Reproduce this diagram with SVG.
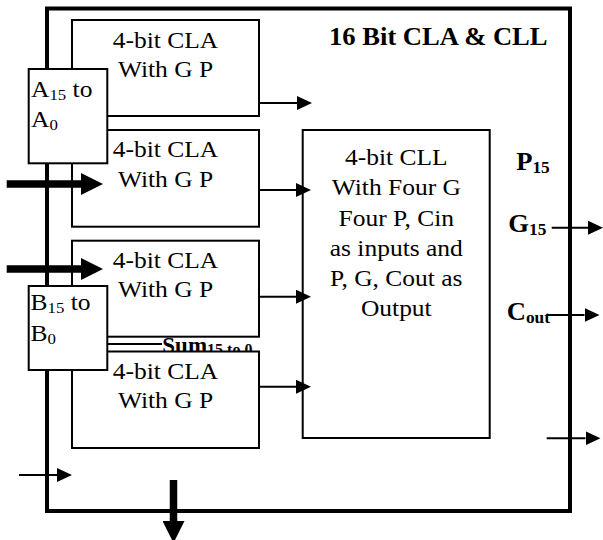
<svg xmlns="http://www.w3.org/2000/svg" width="603" height="540" viewBox="0 0 603 540">
<style>
.frame{fill:none;stroke:#000;stroke-width:4}
.box{fill:#fff;stroke:#000;stroke-width:2}
.t{font-family:"Liberation Serif","Times New Roman",serif;font-size:23.5px;fill:#000}
.b{font-weight:bold}
.lb{font-size:24.5px}
.s{font-size:15.5px}
.wire{stroke:#000;stroke-width:2;fill:none}
.bus{stroke:#000;stroke-width:7.5;fill:none}
</style>
<defs>
<marker id="ah" markerUnits="userSpaceOnUse" markerWidth="15" markerHeight="14" viewBox="0 0 15 14" refX="0" refY="7" orient="auto"><path d="M0,0 L15,7 L0,14 z" fill="#000"/></marker>
<marker id="ahb" markerUnits="userSpaceOnUse" markerWidth="22" markerHeight="22" viewBox="0 0 22 22" refX="0" refY="11" orient="auto"><path d="M0,0 L22,11 L0,22 z" fill="#000"/></marker>
</defs>
<g id="outer">
<rect class="frame" x="47" y="8.5" width="523" height="502.5"/>
<text class="t b" style="font-size:24.5px" text-anchor="middle" transform="translate(438.3,45) scale(1.085,1)">16 Bit CLA &amp; CLL</text>
</g>
<g id="cla1">
<rect class="box" x="72" y="20" width="187" height="96"/>
<text class="t" text-anchor="middle" transform="translate(165.5,47.5) scale(1.085,1)"><tspan x="0">4-bit CLA</tspan><tspan x="0" dy="30">With G P</tspan></text>
</g>
<g id="cla2">
<rect class="box" x="72" y="130" width="187" height="96.7"/>
<text class="t" text-anchor="middle" transform="translate(165.5,156.7) scale(1.085,1)"><tspan x="0">4-bit CLA</tspan><tspan x="0" dy="30">With G P</tspan></text>
</g>
<g id="cla3">
<rect class="box" x="72" y="240.7" width="187" height="96"/>
<text class="t" text-anchor="middle" transform="translate(165.5,267.5) scale(1.085,1)"><tspan x="0">4-bit CLA</tspan><tspan x="0" dy="30">With G P</tspan></text>
</g>
<g id="sum">
<text class="t b" style="font-size:23px" transform="translate(162.3,352.5)">Sum<tspan style="font-size:16px" dy="2">15 to 0</tspan></text>
</g>
<g id="cla4">
<rect class="box" x="72" y="351.5" width="187" height="96.5"/>
<text class="t" text-anchor="middle" transform="translate(165.5,378.5) scale(1.085,1)"><tspan x="0">4-bit CLA</tspan><tspan x="0" dy="30">With G P</tspan></text>
</g>
<g id="a-in">
<rect class="box" x="28.7" y="69" width="78.6" height="94.3"/>
<text class="t" transform="translate(31,96.7) scale(1.085,1)"><tspan>A</tspan><tspan class="s" dy="3">15</tspan><tspan dy="-3"> to</tspan><tspan x="0" dy="30">A</tspan><tspan class="s" dy="3">0</tspan></text>
</g>
<g id="b-in">
<rect class="box" x="28.7" y="286" width="78.6" height="84"/>
<text class="t" transform="translate(30.5,310) scale(1.085,1)"><tspan>B</tspan><tspan class="s" dy="3">15</tspan><tspan dy="-3"> to</tspan><tspan x="0" dy="31">B</tspan><tspan class="s" dy="3">0</tspan></text>
</g>
<g id="cll">
<rect class="box" x="302.7" y="130" width="187" height="308"/>
<text class="t" text-anchor="middle" transform="translate(396.3,165) scale(1.085,1)"><tspan x="0">4-bit CLL</tspan><tspan x="0" dy="30.3">With Four G</tspan><tspan x="0" dy="30.3">Four P, Cin</tspan><tspan x="0" dy="30.3">as inputs and</tspan><tspan x="0" dy="30.3">P, G, Cout as</tspan><tspan x="0" dy="30.3">Output</tspan></text>
</g>
<g id="outputs">
<text class="t b lb" transform="translate(516.2,169.5) scale(1.085,1)">P<tspan class="s" style="font-size:16px" dy="3">15</tspan></text>
<text class="t b lb" transform="translate(508.3,231.7) scale(1.085,1)">G<tspan class="s" style="font-size:16px" dy="3">15</tspan></text>
<text class="t b lb" transform="translate(506.7,320) scale(1.085,1)">C<tspan class="s" style="font-size:16px" dy="3">out</tspan></text>
</g>
<g id="connectors">
<line class="wire" x1="107.3" y1="344" x2="162" y2="344"/>
<line class="wire" x1="259" y1="103" x2="297" y2="103" marker-end="url(#ah)"/>
<line class="wire" x1="259" y1="190" x2="296" y2="190" marker-end="url(#ah)"/>
<line class="wire" x1="259" y1="296.7" x2="296" y2="296.7" marker-end="url(#ah)"/>
<line class="wire" x1="259" y1="386.7" x2="296" y2="386.7" marker-end="url(#ah)"/>
<line class="wire" x1="551.7" y1="227.7" x2="588" y2="227.7" marker-end="url(#ah)"/>
<line class="wire" x1="546.7" y1="315" x2="584.5" y2="315" marker-end="url(#ah)"/>
<line class="wire" x1="546.7" y1="438.3" x2="585.5" y2="438.3" marker-end="url(#ah)"/>
<line class="wire" x1="19" y1="475" x2="57" y2="475" marker-end="url(#ah)"/>
<line class="bus" x1="6.7" y1="184" x2="81" y2="184" marker-end="url(#ahb)"/>
<line class="bus" x1="6.7" y1="269" x2="81" y2="269" marker-end="url(#ahb)"/>
<line class="bus" x1="173.5" y1="480" x2="173.5" y2="521" marker-end="url(#ahb)"/>
</g>
</svg>
